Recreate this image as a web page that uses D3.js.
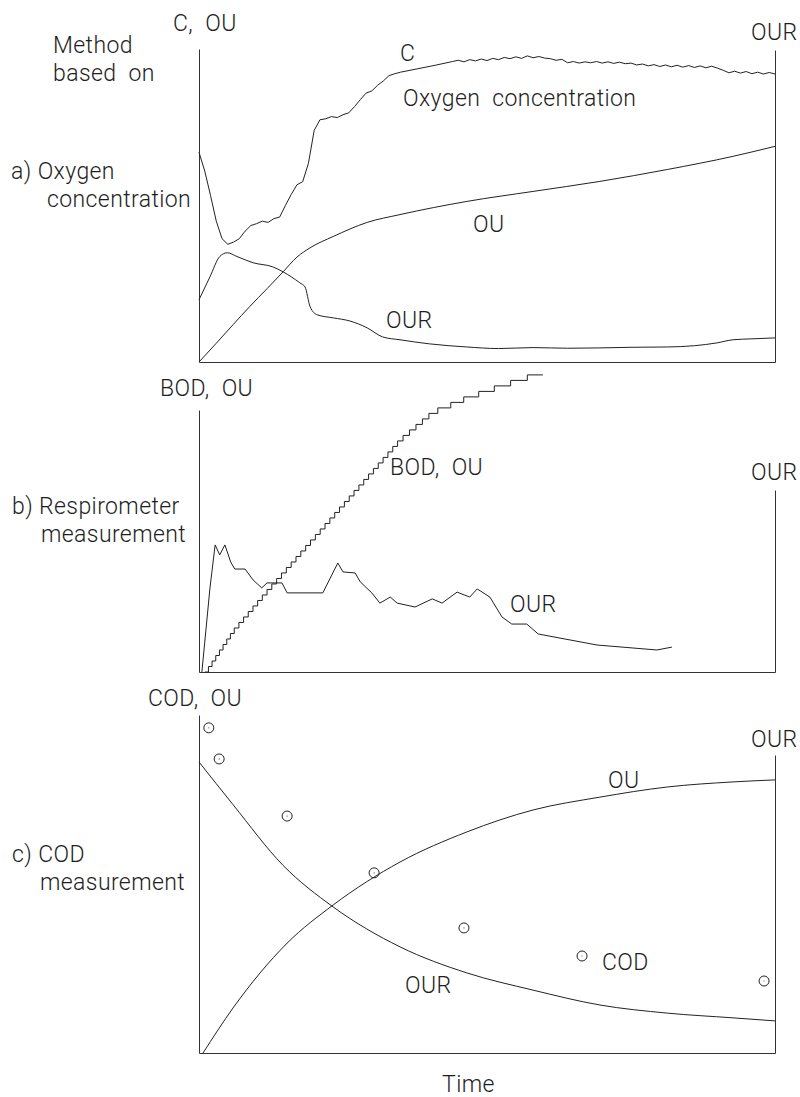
<!DOCTYPE html>
<html>
<head>
<meta charset="utf-8">
<script src="https://cdnjs.cloudflare.com/ajax/libs/d3/7.8.5/d3.min.js"></script>
<style>
  body { margin: 0; background: #fff; }
  text {
    font-family: Roboto, "DejaVu Sans", sans-serif;
    font-weight: 300;
    font-size: 23px;
    letter-spacing: 0.4px;
    fill: #1e1e1e;
    white-space: pre;
  }
  .axis path { stroke: #333; stroke-width: 1; }
  .curve { fill: none; stroke: #222; stroke-width: 1; }
</style>
</head>
<body>
<div id="chart"></div>
<script>
// ---- data (time 0-100, values 0-100 in each panel) ----

// a) oxygen concentration C (noisy record)
var concA = [
  [0,67.0],[1,61.0],[2,53.2],[3,45.0],[4,39.4],[5,37.6],[6,38.3],[7,39.4],[8,41.8],[9,43.6],
  [10,44.2],[11,45.0],[12,44.6],[13,45.8],[14,46.3],[15,50.0],[16,53.5],[17,56.6],[18,57.6],[19,63.5],
  [20,74.0],[21,77.4],[22,77.7],[23,78.4],[24,78.1],[25,79.0],[26,79.6],[27,81.6],[28,83.8],[29,85.9],
  [30,86.6],[31,88.4],[32,89.8],[33,91.5],[34,92.1],[35,92.6],[38,93.7],[41,94.8],[44,96.0],
  [45,96.4],[46,95.9],[47,96.6],[48,96.2],[49,96.8],[50,96.3],[51,97.0],[52,96.6],[53,97.3],[54,96.9],
  [55,97.5],[56,97.0],[57,97.8],[58,97.2],[59,97.6],[60,97.1],[61,96.9],[62,96.4],[63,96.7],[64,95.6],
  [65,96.0],[66,95.5],[67,95.9],[68,95.6],[69,96.0],[70,95.5],[71,95.9],[72,95.4],[73,95.8],[74,95.3],
  [75,95.5],[76,94.9],[77,95.2],[78,94.6],[79,95.0],[80,94.4],[81,94.9],[82,94.3],[83,94.8],[84,94.2],
  [85,94.7],[86,94.1],[87,94.6],[88,94.0],[89,94.5],[90,93.9],[91,93.2],[92,92.4],[93,92.9],[94,92.3],
  [95,92.8],[96,92.1],[97,92.6],[98,92.0],[99,92.5],[100,92.0]
];
// a) oxygen uptake OU
var ouA = [
  [0,0],[3,6],[5.9,11.9],[8.8,17.7],[11.8,23.4],[14.6,28.8],[17,33.5],[19.3,36.5],[23.3,40.1],
  [29.2,44.6],[34.9,47.1],[46.5,51.3],[58,54.5],[69.6,57.7],[81.3,61.5],[92.7,65.7],[100,68.9]
];
// a) oxygen uptake rate OUR
var ourA = [
  [0,19.9],[1.9,27.2],[3.6,33.7],[4.9,34.9],[6.6,33.7],[9.4,31.7],[12.8,30.4],[14.6,28.8],[17.5,25.3],
  [18.4,24.0],[19.3,17.6],[20.5,15.1],[23.3,14.1],[26.2,13.1],[29.2,10.9],[31.9,8.0],[34.9,7.1],
  [40,5.8],[46.5,4.8],[52,4.3],[58,4.6],[64,4.4],[69.6,4.5],[75,4.7],[81.3,4.8],[86,5.2],
  [89.9,6.1],[92.7,7.1],[96,7.4],[100,7.7]
];

// b) respirometer: times of the oxygen pulses, each pulse = one BOD step
var bodStart = 1.0;
var bodEnd = 59.7;
var bodStep = 2.1;
var bodPulseTimes = [
  1.64, 2.27, 2.91, 3.55, 4.18, 4.82, 5.45, 6.12, 6.93, 7.74,
  8.55, 9.37, 10.18, 10.99, 11.81, 12.64, 13.48, 14.32, 15.16, 16.0,
  16.84, 17.68, 18.52, 19.36, 20.2, 21.04, 21.88, 22.72, 23.56, 24.4,
  25.24, 26.08, 26.92, 27.76, 28.6, 29.44, 30.28, 31.12, 31.96, 32.8,
  33.64, 34.48, 35.43, 36.55, 37.67, 38.79, 39.91, 41.46, 43.71, 45.96,
  48.56, 51.27, 54.1, 57.0
];
// b) OUR from respirometer
var ourB = [
  [0.5,0],[1.9,32],[2.8,48.5],[3.6,44.7],[4.5,48.5],[5.5,42],[6.2,39.3],[8.0,39.3],[9.4,35.1],
  [10.9,32.1],[11.8,34.0],[14.4,34.0],[15.3,30.2],[21.5,30.2],[24.1,41.6],[25.0,38.2],[27.1,37.8],
  [28.0,34.4],[30.0,30.2],[31.4,26.3],[33.2,28.6],[34.4,26.3],[37.5,24.8],[40.5,27.9],[42.2,26.3],
  [44.8,30.5],[47.0,28.6],[48.3,31.7],[50.5,28.6],[52.6,21.0],[54.3,18.3],[56.9,18.3],[58.9,14.5],
  [69.1,10.3],[79.5,8.4],[82.1,9.5]
];

// c) COD measurement
var codTimes = [1.7, 3.5, 15.3, 30.4, 46.0, 66.5, 98.1];
var codValues = [96.2, 87.0, 70.1, 53.3, 37.0, 28.7, 21.3];
var ouC = [
  [0.7,0],[5.9,13.3],[15.3,32.5],[23.3,43.8],[34.9,56.5],[46.5,65.4],
  [58,71.9],[69.6,75.7],[81.3,78.7],[92.7,80.2],[100,80.8]
];
var ourC = [
  [0,86.1],[5.9,73.5],[14.6,55.5],[23.3,43.2],[34.9,31.4],[46.5,23.7],[58,18.6],[69.6,14.2],
  [81.3,11.8],[92.7,10.4],[100,9.5]
];

// ---- drawing ----
var svgWidth = 800;
var svgHeight = 1097;

var svg = d3.select("#chart")
  .append("svg")
  .attr("width", svgWidth)
  .attr("height", svgHeight);

var x = d3.scaleLinear().domain([0, 100]).range([199, 775]);

// one y scale per panel, right (OUR) axis is shorter
var yA = d3.scaleLinear().domain([0, 100]).range([362, 49]);
var yB = d3.scaleLinear().domain([0, 100]).range([672, 410]);
var yC = d3.scaleLinear().domain([0, 100]).range([1053, 715]);
var yAR = yA.copy().domain([0, yA.invert(50)]).range([362, 50]);
var yBR = yB.copy().domain([0, yB.invert(490)]).range([672, 490]);
var yCR = yC.copy().domain([0, yC.invert(755)]).range([1053, 755]);

function drawFrame(yLeft, yRight) {
  svg.append("g")
    .attr("class", "axis")
    .attr("transform", `translate(${x(0)}, 0)`)
    .call(d3.axisLeft(yLeft).ticks(0).tickSizeOuter(0));
  svg.append("g")
    .attr("class", "axis")
    .attr("transform", `translate(${x(100)}, 0)`)
    .call(d3.axisRight(yRight).ticks(0).tickSizeOuter(0));
  svg.append("g")
    .attr("class", "axis")
    .attr("transform", `translate(0, ${yLeft(0)})`)
    .call(d3.axisBottom(x).ticks(0).tickSizeOuter(0));
}

drawFrame(yA, yAR);
drawFrame(yB, yBR);
drawFrame(yC, yCR);

function drawCurve(data, y, curve) {
  var line = d3.line()
    .x(d => x(d[0]))
    .y(d => y(d[1]))
    .curve(curve);
  svg.append("path")
    .datum(data)
    .attr("class", "curve")
    .attr("d", line);
}

// panel a
drawCurve(concA, yA, d3.curveLinear);
drawCurve(ouA, yA, d3.curveMonotoneX);
drawCurve(ourA, yAR, d3.curveMonotoneX);

// panel b: BOD staircase
var bodData = [[bodStart, 0]];
bodPulseTimes.forEach(function (t, i) {
  bodData.push([t, (i + 1) * bodStep]);
});
bodData.push([bodEnd, bodPulseTimes.length * bodStep]);
drawCurve(bodData, yB, d3.curveStepAfter);
drawCurve(ourB, yBR, d3.curveLinear);

// panel c
drawCurve(ouC, yC, d3.curveMonotoneX);
drawCurve(ourC, yCR, d3.curveMonotoneX);

var codPoints = codTimes.map((t, i) => [t, codValues[i]]);
svg.selectAll(".cod")
  .data(codPoints)
  .enter()
  .append("circle")
  .attr("class", "cod")
  .attr("cx", d => x(d[0]))
  .attr("cy", d => yC(d[1]))
  .attr("r", 5)
  .attr("fill", "none")
  .attr("stroke", "#222")
  .attr("stroke-width", 1);
svg.selectAll(".codDot")
  .data(codPoints)
  .enter()
  .append("circle")
  .attr("class", "codDot")
  .attr("cx", d => x(d[0]))
  .attr("cy", d => yC(d[1]))
  .attr("r", 0.6)
  .attr("fill", "#555");

// labels
function label(txt, px, py) {
  svg.append("text").attr("x", px).attr("y", py).text(txt);
}

label("C,  OU", 173, 31);
label("Method", 53, 53);
label("based  on", 53, 81);
label("a) Oxygen", 11, 179);
label("concentration", 47, 207);
label("C", 400, 61);
label("Oxygen  concentration", 403, 106);
label("OU", 473, 232);
label("OUR", 386, 328);
label("OUR", 751, 40);

label("BOD,  OU", 160, 396);
label("b) Respirometer", 12, 514);
label("measurement", 41, 542);
label("BOD,  OU", 390, 475);
label("OUR", 751, 480);
label("OUR", 510, 612);

label("COD,  OU", 148, 706);
label("c) COD", 12, 862);
label("measurement", 40, 890);
label("OU", 608, 788);
label("COD", 602, 970);
label("OUR", 405, 993);
label("OUR", 751, 747);
label("Time", 442, 1092);
</script>
</body>
</html>
